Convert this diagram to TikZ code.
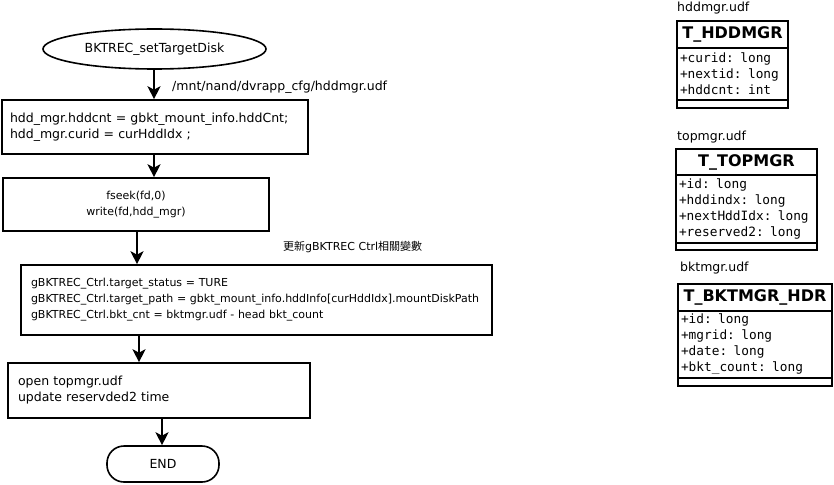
\documentclass[tikz,border=0pt]{standalone}
\usepackage{fontspec}
\setmainfont{DejaVu Sans}
\setmonofont{DejaVu Sans Mono}
\newfontfamily\cjk{Noto Sans CJK TC}
\usetikzlibrary{shapes.geometric,arrows.meta}
\begin{document}
\begin{tikzpicture}[x=1pt,y=-1pt,font=\fontsize{12.5}{16}\selectfont]
\tikzset{
  flowbox/.style={draw,line width=1.6pt,inner ysep=0pt,align=left},
  smalltext/.style={font=\fontsize{11}{16}\selectfont},
  arr/.style={-{Stealth[length=13pt,width=13pt,inset=3.5pt]},line width=2pt},
  umlpart/.style={draw,line width=2pt,inner sep=0pt},
  umltitle/.style={umlpart,font=\fontsize{16}{18}\selectfont\bfseries},
  umlattr/.style={umlpart,align=left,inner xsep=3pt,font=\ttfamily\fontsize{12.8}{16}\selectfont},
  lbl/.style={anchor=west,inner sep=0pt}
}
\useasboundingbox (0,0) rectangle (834,484);
% flow
\node[ellipse,draw,line width=1.6pt,minimum width=223pt,minimum height=40pt,inner sep=0pt] (start) at (154.5,49) {BKTREC\_setTargetDisk};
\node[flowbox,text width=290pt,inner xsep=8pt,minimum height=54pt] (b1) at (155,127) {hdd\_mgr.hddcnt = gbkt\_mount\_info.hddCnt;\\hdd\_mgr.curid = curHddIdx ;};
\node[flowbox,smalltext,align=center,text width=250pt,inner xsep=8pt,minimum height=53pt] (b2) at (136,204.5) {fseek(fd,0)\\write(fd,hdd\_mgr)};
\node[flowbox,smalltext,text width=451pt,inner xsep=10pt,minimum height=70pt] (b3) at (256.5,300) {gBKTREC\_Ctrl.target\_status = TURE\\gBKTREC\_Ctrl.target\_path = gbkt\_mount\_info.hddInfo[curHddIdx].mountDiskPath\\gBKTREC\_Ctrl.bkt\_cnt = bktmgr.udf - head bkt\_count};
\node[flowbox,text width=282pt,inner xsep=10pt,minimum height=55pt] (b4) at (159,390.5) {open topmgr.udf\\update reservded2 time};
\node[draw,line width=1.6pt,rounded corners=17pt,minimum width=112pt,minimum height=36pt,inner sep=0pt] (end) at (163,464) {END};
\node[lbl] (l1) at (172,87) {/mnt/nand/dvrapp\_cfg/hddmgr.udf};
\node[lbl,smalltext] (l2) at (283,247) {{\cjk 更新}gBKTREC Ctrl{\cjk 相關變數}};
\coordinate (x1) at (154,0);
\coordinate (x3) at (137,0);
\coordinate (x4) at (139,0);
\coordinate (x5) at (162,0);
\draw[arr] (start.south -| x1) -- (b1.north -| x1);
\draw[arr] (b1.south -| x1) -- (b2.north -| x1);
\draw[arr] (b2.south -| x3) -- (b3.north -| x3);
\draw[arr] (b3.south -| x4) -- (b4.north -| x4);
\draw[arr] (b4.south -| x5) -- (end.north -| x5);
% UML classes
\node[lbl] (c1l) at (677,8) {hddmgr.udf};
\node[umltitle,minimum width=111pt,minimum height=27pt] (c1t) at (732.5,34.5) {T\_HDDMGR};
\node[umlattr,text width=105pt,minimum height=52pt] (c1a) at (732.5,74) {+curid: long\\+nextid: long\\+hddcnt: int};
\node[umlpart,minimum width=111pt,minimum height=8pt] (c1b) at (732.5,104) {};
\node[lbl] (c2l) at (677,137) {topmgr.udf};
\node[umltitle,minimum width=141pt,minimum height=26pt] (c2t) at (746.5,162) {T\_TOPMGR};
\node[umlattr,text width=135pt,minimum height=68pt] (c2a) at (746.5,209) {+id: long\\+hddindx: long\\+nextHddIdx: long\\+reserved2: long};
\node[umlpart,minimum width=141pt,minimum height=7pt] (c2b) at (746.5,246.5) {};
\node[lbl] (c3l) at (680,268) {bktmgr.udf};
\node[umltitle,minimum width=154pt,minimum height=27pt] (c3t) at (755,297.5) {T\_BKTMGR\_HDR};
\node[umlattr,text width=148pt,minimum height=67pt] (c3a) at (755,344.5) {+id: long\\+mgrid: long\\+date: long\\+bkt\_count: long};
\node[umlpart,minimum width=154pt,minimum height=8pt] (c3b) at (755,382) {};
\end{tikzpicture}
\end{document}
